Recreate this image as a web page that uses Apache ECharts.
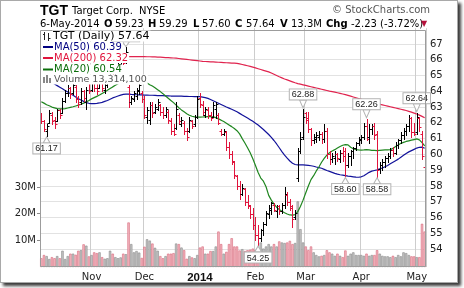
<!DOCTYPE html>
<html>
<head>
<meta charset="utf-8">
<script src="https://cdn.jsdelivr.net/npm/echarts@6/dist/echarts.min.js"></script>
<style>
html,body{margin:0;padding:0;background:#fff;}
#frame{position:absolute;left:0;top:0;width:456px;height:281px;border:1px solid #a9a9a9;background:#fff;box-shadow:3px 3px 3px #3a3a3a;}
#c{position:absolute;left:0;top:0;width:464px;height:288px;}
</style>
</head>
<body>
<div id="frame"></div>
<div id="c"></div>
<script>
// ---- trading days (categories) ----
const oct13 = [7,8,9,10,11,14,15,16,17,18,21,22,23,24,25,28,29,30,31];
const nov13 = [1,4,5,6,7,8,11,12,13,14,15,18,19,20,21,22,25,26,27,29];
const dec13 = [2,3,4,5,6,9,10,11,12,13,16,17,18,19,20,23,24,26,27,30,31];
const jan14 = [2,3,6,7,8,9,10,13,14,15,16,17,21,22,23,24,27,28,29,30,31];
const feb14 = [3,4,5,6,7,10,11,12,13,14,18,19,20,21,24,25,26,27,28];
const mar14 = [3,4,5,6,7,10,11,12,13,14,17,18,19,20,21,24,25,26,27,28,31];
const apr14 = [1,2,3,4,7,8,9,10,11,14,15,16,17,21,22,23,24,25,28,29,30];
const may14 = [1,2,5,6];
const monthTickLabels = ['', 'Nov', 'Dec', '2014', 'Feb', 'Mar', 'Apr', 'May'];

// ---- price data (OHLC) ----
const open = [
 62.5,62.1,61.5,62.0,62.5,62.2,62.1,62.8,62.6,63.4,
 63.9,64.2,63.9,64.3,63.5,63.3,64.0,63.3,64.5,64.1,
 64.6,64.2,64.2,64.7,64.1,64.4,64.9,65.2,65.0,65.3,
 65.7,66.1,65.9,64.3,63.3,63.5,63.7,64.0,63.9,63.5,
 62.4,62.2,63.1,62.7,62.9,63.1,62.7,62.5,62.7,62.1,
 61.5,61.7,62.5,61.9,62.0,61.5,61.5,62.1,61.9,62.4,
 63.6,63.1,62.5,62.8,62.5,62.4,62.9,62.5,61.5,61.3,
 61.4,60.5,60.0,59.5,58.6,58.0,57.5,57.8,57.0,56.7,
 56.2,55.5,54.9,54.7,55.2,55.6,56.2,56.5,56.8,56.4,
 56.7,56.4,56.8,57.4,57.0,56.6,56.0,58.5,60.2,61.1,
 62.6,62.3,61.6,60.9,61.0,61.1,61.3,61.0,61.5,60.0,
 59.7,59.8,60.0,59.7,60.1,60.2,59.3,59.9,60.2,60.4,
 60.7,60.9,61.1,61.8,61.1,61.6,61.8,61.3,59.1,59.3,
 59.5,59.8,59.9,60.3,60.1,60.6,60.9,61.2,61.5,61.8,
 62.3,61.4,61.4,62.3,61.3,59.23];
const high = [
 62.6,62.2,61.9,62.8,62.7,62.4,62.9,62.9,63.6,64.1,
 64.4,64.3,64.6,64.4,63.7,64.2,64.1,64.3,64.6,64.8,
 64.7,64.5,64.9,64.8,64.6,65.0,65.3,65.4,65.5,65.8,
 66.0,66.3,66.8,64.4,63.7,64.0,64.2,64.6,64.0,63.7,
 63.0,63.3,63.3,63.2,63.5,63.2,63.0,63.0,62.8,62.3,
 61.9,63.3,62.6,62.4,62.1,61.7,62.4,62.2,62.5,63.7,
 63.9,63.4,63.0,63.0,62.7,63.3,63.3,62.6,61.6,61.6,
 61.5,60.8,60.2,59.6,58.7,58.3,58.1,57.9,57.4,56.8,
 56.6,56.0,55.5,55.3,55.7,56.4,56.8,57.0,56.9,56.8,
 56.8,56.9,57.95,57.6,57.2,56.8,56.5,60.4,61.4,62.88,
 62.7,62.7,61.7,61.3,61.4,61.5,61.4,61.9,61.7,60.2,
 60.1,60.2,60.1,60.3,60.5,60.4,60.1,60.3,60.5,60.8,
 61.1,61.2,62.0,62.26,61.9,61.9,62.0,61.5,59.5,59.7,
 59.9,60.1,60.4,60.5,60.8,61.0,61.4,61.7,61.9,62.5,
 62.4,62.0,62.64,62.4,61.5,59.29];
const low = [
 62.0,61.5,61.17,62.0,61.9,61.7,62.1,62.3,62.6,63.3,
 63.7,63.6,63.8,63.3,63.0,63.2,63.4,62.9,63.9,64.0,
 64.0,63.8,64.2,64.0,63.9,64.3,64.7,64.9,64.9,65.2,
 65.4,65.7,65.8,63.0,63.2,63.4,63.5,63.8,63.3,62.3,
 62.0,61.9,62.4,62.6,62.8,62.5,62.3,62.4,62.0,61.3,
 61.2,61.6,61.9,61.8,61.3,60.9,61.4,61.7,61.8,62.3,
 63.0,62.5,62.4,62.3,62.2,62.4,62.3,61.9,61.2,61.2,
 60.3,59.8,59.4,58.5,57.8,57.2,57.4,56.8,56.6,55.95,
 55.3,54.6,54.25,54.5,54.9,55.5,55.95,56.2,56.4,56.05,
 56.2,56.3,56.6,56.8,56.5,55.4,55.9,58.3,60.1,61.0,
 62.0,61.4,60.6,60.7,60.8,60.9,60.7,60.8,59.8,59.4,
 59.5,59.4,59.6,59.5,59.6,58.60,59.2,59.3,59.8,60.3,
 60.6,60.7,61.0,60.9,60.7,61.3,61.0,58.58,58.8,59.0,
 59.2,59.5,59.8,59.9,60.0,60.4,60.7,61.0,61.2,61.5,
 61.1,61.2,61.3,61.5,59.7,57.60];
const close = [
 62.1,61.6,61.8,62.6,62.1,61.9,62.8,62.5,63.4,63.9,
 64.2,63.8,64.4,63.5,63.2,64.0,63.6,64.1,64.0,64.6,
 64.2,64.0,64.7,64.2,64.5,64.9,65.2,65.0,65.4,65.7,
 65.9,65.8,66.5,63.3,63.6,63.9,64.1,64.4,63.5,62.5,
 62.8,63.1,62.6,63.0,63.3,62.7,62.5,62.9,62.2,61.5,
 61.3,62.9,62.1,62.2,61.5,61.1,62.2,61.8,62.4,63.5,
 63.2,62.7,62.9,62.5,62.3,63.1,63.2,62.0,61.3,61.5,
 60.5,60.0,59.6,58.7,58.0,57.5,57.9,57.0,56.8,56.2,
 55.5,54.9,54.7,55.2,55.6,56.3,56.6,56.9,56.5,56.7,
 56.4,56.8,57.5,57.0,56.7,55.9,56.3,60.2,61.0,62.4,
 62.2,61.6,60.9,61.1,61.2,61.3,61.0,61.5,60.0,59.7,
 59.9,60.0,59.8,60.1,59.9,59.3,59.9,60.2,60.4,60.7,
 61.0,61.1,61.8,61.0,61.6,61.8,61.2,59.0,59.3,59.5,
 59.8,59.9,60.3,60.1,60.6,60.9,61.2,61.5,61.8,62.3,
 61.4,61.3,62.4,61.72,59.87,57.64];
// volume, millions of shares
const volume = [
 3.3,4.5,4.1,3.0,3.7,3.3,4.1,3.3,6.1,3.0,
 4.1,5.0,5.0,4.6,6.1,6.3,8.5,8.0,4.0,4.5,
 5.5,5.2,5.5,3.7,3.1,3.3,6.1,5.0,3.7,3.3,
 3.6,5.0,4.8,16.7,8.6,5.5,6.0,5.4,3.4,7.6,
 10.4,9.9,8.8,7.2,6.1,4.1,3.3,4.1,5.0,5.0,
 5.2,8.8,8.6,7.3,6.3,3.1,4.1,3.6,3.3,4.5,
 7.3,7.7,5.0,5.0,6.0,6.0,7.7,13.3,8.6,5.0,
 5.7,8.6,10.8,7.7,7.7,6.2,6.7,6.0,6.3,6.5,
 6.9,6.3,6.3,9.2,6.9,7.7,8.6,7.7,8.6,7.7,
 9.6,9.2,9.0,9.2,9.8,8.6,9.0,24.6,14.2,9.2,
 7.7,6.3,7.7,5.5,4.5,4.0,4.2,4.5,6.3,5.5,
 5.0,4.2,5.0,4.2,3.7,6.2,4.2,5.0,5.5,4.5,
 4.5,4.5,4.2,5.0,4.2,4.5,4.5,6.3,5.0,4.2,
 4.0,4.0,3.7,4.2,3.7,4.5,4.0,5.5,5.2,4.5,
 4.0,4.0,3.7,3.7,16.2,13.31];
// moving averages as drawn
const ma20 = [
 63.34,63.25,63.15,63.08,63.00,62.95,62.90,62.88,62.88,62.90,
 62.94,62.98,63.02,63.07,63.12,63.18,63.25,63.33,63.42,63.52,
 63.60,63.68,63.76,63.86,63.96,64.06,64.17,64.28,64.38,64.48,
 64.56,64.62,64.68,64.72,64.74,64.74,64.73,64.72,64.70,64.62,
 64.52,64.42,64.33,64.22,64.10,63.98,63.85,63.70,63.56,63.42,
 63.28,63.12,62.96,62.82,62.70,62.58,62.48,62.42,62.38,62.36,
 62.36,62.37,62.38,62.39,62.39,62.38,62.33,62.25,62.17,62.08,
 61.98,61.87,61.76,61.64,61.50,61.30,61.00,60.72,60.42,60.10,
 59.72,59.30,58.85,58.50,58.30,57.95,57.40,57.10,56.85,56.65,
 56.50,56.40,56.30,56.22,56.16,56.15,56.18,56.37,56.70,57.10,
 57.55,58.00,58.40,58.65,58.95,59.20,59.50,59.75,59.95,60.10,
 60.22,60.30,60.40,60.50,60.58,60.62,60.60,60.45,60.36,60.30,
 60.28,60.27,60.28,60.30,60.28,60.26,60.25,60.24,60.26,60.27,
 60.28,60.28,60.30,60.38,60.50,60.60,60.70,60.76,60.82,60.86,
 60.90,60.94,60.98,60.92,60.75,60.54];
const ma50 = [
 64.90,64.80,64.72,64.64,64.56,64.46,64.36,64.26,64.16,64.05,
 63.95,63.85,63.75,63.64,63.53,63.45,63.36,63.28,63.24,63.22,
 63.22,63.23,63.26,63.30,63.36,63.42,63.50,63.58,63.64,63.70,
 63.76,63.80,63.82,63.82,63.80,63.79,63.78,63.77,63.77,63.76,
 63.76,63.75,63.75,63.74,63.73,63.73,63.72,63.71,63.71,63.70,
 63.70,63.70,63.69,63.69,63.68,63.68,63.67,63.67,63.66,63.66,
 63.66,63.63,63.60,63.55,63.48,63.40,63.32,63.24,63.16,63.08,
 63.00,62.93,62.86,62.78,62.70,62.60,62.50,62.40,62.30,62.20,
 62.10,61.98,61.86,61.72,61.58,61.42,61.26,61.08,60.88,60.66,
 60.42,60.18,59.96,59.76,59.58,59.44,59.36,59.33,59.33,59.33,
 59.32,59.30,59.28,59.25,59.20,59.16,59.12,59.05,58.98,58.92,
 58.86,58.80,58.75,58.71,58.68,58.65,58.62,58.60,58.58,58.56,
 58.55,58.58,58.65,58.75,58.86,58.94,58.98,59.02,59.08,59.14,
 59.22,59.30,59.40,59.50,59.60,59.70,59.82,59.94,60.06,60.16,
 60.24,60.32,60.40,60.45,60.46,60.39];
const ma200 = [
 66.02,66.04,66.05,66.06,66.07,66.08,66.09,66.10,66.11,66.12,
 66.13,66.14,66.14,66.15,66.15,66.16,66.16,66.17,66.17,66.17,
 66.18,66.18,66.18,66.18,66.19,66.19,66.19,66.19,66.20,66.20,
 66.20,66.20,66.20,66.20,66.20,66.20,66.20,66.20,66.20,66.20,
 66.19,66.19,66.18,66.18,66.17,66.16,66.15,66.14,66.13,66.12,
 66.11,66.10,66.08,66.06,66.04,66.02,66.00,65.98,65.96,65.94,
 65.92,65.90,65.89,65.88,65.87,65.86,65.85,65.84,65.83,65.82,
 65.81,65.80,65.79,65.78,65.77,65.74,65.70,65.66,65.62,65.58,
 65.53,65.48,65.43,65.38,65.33,65.28,65.23,65.16,65.08,65.00,
 64.92,64.85,64.78,64.72,64.66,64.60,64.54,64.49,64.45,64.41,
 64.37,64.33,64.29,64.25,64.21,64.17,64.13,64.09,64.05,64.01,
 63.98,63.95,63.91,63.87,63.83,63.79,63.74,63.69,63.64,63.59,
 63.54,63.49,63.44,63.39,63.34,63.30,63.26,63.22,63.18,63.14,
 63.10,63.06,63.02,62.98,62.94,62.90,62.86,62.82,62.78,62.73,
 62.68,62.62,62.56,62.49,62.41,62.32];
const calloutHighIdx = [32, 99, 123, 142];
const calloutLowIdx = [2, 82, 115, 127];
const priceTickMin = 53, priceTickMax = 68;
const volumeTickLabels = ['10M', '20M', '30M'];

// ---- build ----
const monthDays = [oct13, nov13, dec13, jan14, feb14, mar14, apr14, may14];
const monthYears = [2013, 2013, 2013, 2014, 2014, 2014, 2014, 2014];
const monthNums = [10, 11, 12, 1, 2, 3, 4, 5];
const dates = [];
const tickLabelAt = {};
monthDays.forEach((days, m) => {
  days.forEach((d, k) => {
    if (k === 0 && monthTickLabels[m]) tickLabelAt[dates.length] = monthTickLabels[m];
    dates.push(monthYears[m] + '-' + monthNums[m] + '-' + d);
  });
});
const isMonthStart = (i) => tickLabelAt[i] !== undefined;
const up = close.map((c, i) => i === 0 ? c >= open[i] : c >= close[i - 1]);

const RED = '#e0143c';
const ohlcData = dates.map((d, i) => [i, open[i], close[i], low[i], high[i], up[i] ? 1 : 0]);
const volData = volume.map((v, i) => ({
  value: v * 1e6,
  itemStyle: up[i]
    ? {color: '#c4c4c4', borderColor: '#8a8a8a', borderWidth: 0.6}
    : {color: '#f2b6bf', borderColor: '#d86a7c', borderWidth: 0.6}
}));

const nTicks = priceTickMax - priceTickMin + 1;
const splitColors = [];
for (let k = 0; k < nTicks; k++) splitColors.push((k === 0 || k === nTicks - 1) ? 'rgba(0,0,0,0)' : '#e2e2e2');

function renderOHLC(params, api) {
  const i = api.value(0);
  const pO = api.coord([i, api.value(1)]);
  const pC = api.coord([i, api.value(2)]);
  const pL = api.coord([i, api.value(3)]);
  const pH = api.coord([i, api.value(4)]);
  const col = api.value(5) ? '#000000' : RED;
  const x = Math.round(pO[0]) + 0.5;
  const yo = Math.round(pO[1]) + 0.5, yc = Math.round(pC[1]) + 0.5;
  const st = {stroke: col, lineWidth: 1};
  return {type: 'group', children: [
    {type: 'line', shape: {x1: x, y1: Math.round(pH[1]), x2: x, y2: Math.round(pL[1]) + 1}, style: st},
    {type: 'line', shape: {x1: x - 2, y1: yo, x2: x, y2: yo}, style: st},
    {type: 'line', shape: {x1: x, y1: yc, x2: x + 2, y2: yc}, style: st}
  ]};
}

const calloutLabel = {
  show: true, distance: 0,
  formatter: p => p.value[1].toFixed(2),
  fontFamily: 'Liberation Sans', fontSize: 9, color: '#222',
  backgroundColor: '#fff', borderColor: '#b3b3b3', borderWidth: 1, padding: [1, 2, 0, 2]
};
const callouts = calloutHighIdx.map(i => ({
  value: [i, high[i]],
  symbolSize: i === 32 ? [7, 5] : [7, 8],
  symbolOffset: i === 32 ? [0, -3] : [0, -5],
  symbolRotate: 0,
  label: {position: 'top'}
})).concat(calloutLowIdx.map(i => ({
  value: [i, low[i]],
  symbolSize: [7, 6],
  symbolOffset: [0, 4],
  symbolRotate: 180,
  label: {position: 'bottom'}
})));

const F = 'DejaVu Sans';
function txt(x, y, text, opts) {
  return Object.assign({type: 'text', x: x, y: y, z: 100, silent: true,
    style: Object.assign({text: text, fill: '#000', fontFamily: F, fontSize: 10, verticalAlign: 'middle', align: 'left'}, opts || {})});
}
function legendTxt(x, y, text, color, size) {
  return txt(x, y, text, {fill: color, fontSize: size || 10, backgroundColor: '#fff', padding: [0, 1, 0, 1]});
}

const graphics = [
  // header
  txt(40, 11, 'TGT', {fontFamily: 'Liberation Sans', fontWeight: 'bold', fontSize: 14}),
  txt(72, 11, 'Target Corp.', {fontSize: 10}),
  txt(139, 11, 'NYSE', {fontSize: 10}),
  txt(332, 10, '\u00A9 StockCharts.com', {fontSize: 10, fill: '#555'}),
  txt(40, 24, '6-May-2014', {fontSize: 10}),
  txt(104, 24, 'O', {fontSize: 10, fontWeight: 'bold'}),
  txt(115, 24, '59.23', {fontSize: 10}),
  txt(148, 24, 'H', {fontSize: 10, fontWeight: 'bold'}),
  txt(159, 24, '59.29', {fontSize: 10}),
  txt(193, 24, 'L', {fontSize: 10, fontWeight: 'bold'}),
  txt(202, 24, '57.60', {fontSize: 10}),
  txt(235, 24, 'C', {fontSize: 10, fontWeight: 'bold'}),
  txt(246, 24, '57.64', {fontSize: 10}),
  txt(280, 24, 'V', {fontSize: 10, fontWeight: 'bold'}),
  txt(291, 24, '13.3M', {fontSize: 10}),
  txt(326, 24, 'Chg', {fontSize: 10, fontWeight: 'bold'}),
  txt(351, 24, '-2.23 (-3.72%)', {fontSize: 10}),
  txt(421, 24, '\u25BC', {fontSize: 8, fill: '#b5123c'}),
  // legend icon column background
  {type: 'rect', z: 99, silent: true, shape: {x: 41, y: 31, width: 12, height: 53}, style: {fill: '#fff'}},
  // legend row icons
  {type: 'line', z: 100, silent: true, shape: {x1: 44.5, y1: 32, x2: 44.5, y2: 40}, style: {stroke: '#222', lineWidth: 1}},
  {type: 'line', z: 100, silent: true, shape: {x1: 43, y1: 34.5, x2: 44.5, y2: 34.5}, style: {stroke: '#222', lineWidth: 1}},
  {type: 'line', z: 100, silent: true, shape: {x1: 48.5, y1: 33, x2: 48.5, y2: 41}, style: {stroke: '#222', lineWidth: 1}},
  {type: 'line', z: 100, silent: true, shape: {x1: 48.5, y1: 38.5, x2: 50.5, y2: 38.5}, style: {stroke: '#222', lineWidth: 1}},
  {type: 'line', z: 100, silent: true, shape: {x1: 43, y1: 47, x2: 53, y2: 47}, style: {stroke: '#000080', lineWidth: 2}},
  {type: 'line', z: 100, silent: true, shape: {x1: 43, y1: 58, x2: 53, y2: 58}, style: {stroke: RED, lineWidth: 2}},
  {type: 'line', z: 100, silent: true, shape: {x1: 43, y1: 69.5, x2: 53, y2: 69.5}, style: {stroke: '#0a6e0a', lineWidth: 2}},
  {type: 'rect', z: 100, silent: true, shape: {x: 43, y: 77, width: 2, height: 6}, style: {fill: '#888'}},
  {type: 'rect', z: 100, silent: true, shape: {x: 46, y: 75, width: 2, height: 8}, style: {fill: '#888'}},
  {type: 'rect', z: 100, silent: true, shape: {x: 49, y: 78, width: 2, height: 5}, style: {fill: '#888'}},
  legendTxt(52, 36, 'TGT (Daily) 57.64', '#000', 11),
  legendTxt(53, 47, 'MA(50) 60.39', '#000080'),
  legendTxt(53, 58, 'MA(200) 62.32', RED),
  legendTxt(53, 69.5, 'MA(20) 60.54', '#0a6e0a'),
  legendTxt(53, 79.5, 'Volume 13,314,100', '#555', 9.5),
  // plot frame
  {type: 'rect', z: 98, silent: true, shape: {x: 40.5, y: 30.5, width: 385, height: 236}, style: {fill: 'none', stroke: '#9c9c9c', lineWidth: 1}}
];

const chart = echarts.init(document.getElementById('c'), null, {renderer: 'canvas', width: 464, height: 288});
chart.setOption({
  animation: false,
  textStyle: {fontFamily: F},
  grid: [
    {left: 40, right: 38, top: 28.2, height: 236.6},
    {left: 40, right: 38, top: 187, height: 80}
  ],
  xAxis: [
    {type: 'category', gridIndex: 0, data: dates, boundaryGap: true,
     axisLine: {show: false}, axisTick: {show: false}, axisLabel: {show: false},
     splitLine: {show: true, interval: isMonthStart, lineStyle: {color: '#cdcdcd', width: 1}}},
    {type: 'category', gridIndex: 1, data: dates, boundaryGap: true,
     axisLine: {show: false}, axisTick: {show: false},
     axisLabel: {show: true, interval: isMonthStart, margin: 5, fontSize: 10, color: '#222', fontFamily: F,
       formatter: (v, i) => tickLabelAt[i] === '2014' ? '{b|2014}' : (tickLabelAt[i] || ''),
       rich: {b: {fontFamily: 'Liberation Sans', fontWeight: 'bold', fontSize: 11.5, color: '#111'}}},
     splitLine: {show: true, interval: isMonthStart, lineStyle: {color: '#cdcdcd', width: 1}}}
  ],
  yAxis: [
    {type: 'value', gridIndex: 0, position: 'right', min: priceTickMin, max: priceTickMax, interval: 1,
     axisLine: {show: false}, axisTick: {show: false},
     axisLabel: {showMinLabel: false, showMaxLabel: false, fontSize: 10, color: '#222', margin: 4, fontFamily: F},
     splitLine: {show: true, lineStyle: {color: splitColors, width: 1}}},
    {type: 'value', gridIndex: 1, position: 'left', min: 0, max: 30e6, interval: 10e6,
     axisLine: {show: false}, axisTick: {show: true, length: 3, lineStyle: {color: '#8a8a8a'}},
     axisLabel: {showMinLabel: false, fontSize: 10, color: '#222', margin: 4, fontFamily: F,
       formatter: v => volumeTickLabels[Math.round(v / 10e6) - 1] || ''},
     splitLine: {show: false}}
  ],
  series: [
    {type: 'bar', name: 'Volume', xAxisIndex: 1, yAxisIndex: 1, data: volData, barWidth: '90%', z: 1, silent: true},
    {type: 'line', name: 'MA(200)', xAxisIndex: 0, yAxisIndex: 0, data: ma200, showSymbol: false, z: 3, silent: true,
     lineStyle: {color: '#e0234e', width: 1.2}},
    {type: 'line', name: 'MA(50)', xAxisIndex: 0, yAxisIndex: 0, data: ma50, showSymbol: false, z: 3, silent: true,
     lineStyle: {color: '#12129a', width: 1.2}},
    {type: 'line', name: 'MA(20)', xAxisIndex: 0, yAxisIndex: 0, data: ma20, showSymbol: false, z: 3, silent: true,
     lineStyle: {color: '#1f861f', width: 1.2}},
    {type: 'custom', name: 'TGT', xAxisIndex: 0, yAxisIndex: 0, data: ohlcData, renderItem: renderOHLC,
     encode: {x: 0, y: [1, 2, 3, 4]}, z: 4, silent: true, clip: true},
    {type: 'scatter', name: 'callouts', xAxisIndex: 0, yAxisIndex: 0, data: callouts, z: 6, silent: true, clip: false,
     symbol: 'path://M0,0L10,0L5,10Z', symbolKeepAspect: false,
     itemStyle: {color: '#fff', borderColor: '#b3b3b3', borderWidth: 1, opacity: 1},
     label: calloutLabel}
  ],
  graphic: {elements: graphics}
});
</script>
</body>
</html>
